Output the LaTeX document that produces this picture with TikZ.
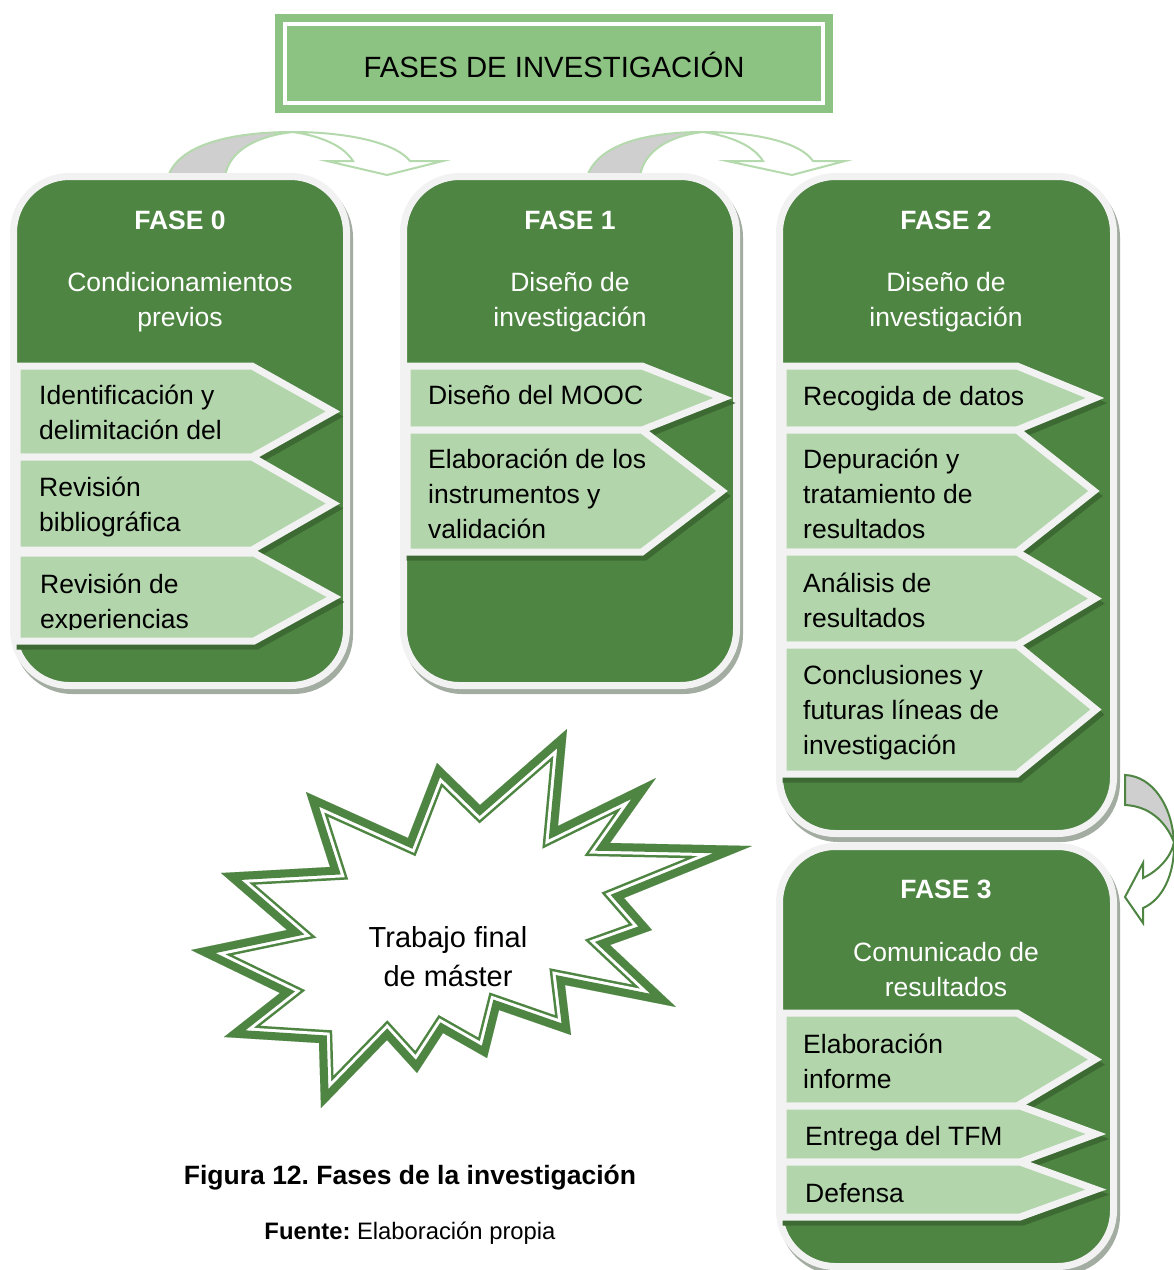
\documentclass[tikz,border=0pt]{standalone}
\usepackage{fontspec}
\setmainfont{Liberation Sans}
\frenchspacing
\begin{document}
\begin{tikzpicture}[x=1pt,y=-1pt]
\definecolor{boxgreen}{HTML}{4E8542}
\definecolor{itemgreen}{HTML}{B2D5AB}
\definecolor{titlegreen}{HTML}{8CC282}
\definecolor{rim}{HTML}{F2F2F2}
\definecolor{boxshadow}{HTML}{A3ACA0}
\definecolor{itemshadow}{HTML}{3D6A33}
\definecolor{arrowline}{HTML}{B4D9AC}
\definecolor{arrowgray}{HTML}{CFCFCF}
\tikzset{
  phase/.style={rectangle, rounded corners=56pt, fill=boxgreen, draw=rim,
    line width=7pt, inner sep=0pt, outer sep=0pt},
  phaseshadow/.style={fill=boxshadow, rounded corners=59.5pt},
  itemtext/.style={anchor=north west, inner sep=0pt, align=left, text=black,
    font=\fontsize{26.5pt}{35pt}\selectfont, execute at begin node=\strut},
  headtitle/.style={anchor=base, inner sep=0pt, text=white,
    font=\fontsize{26.5pt}{35pt}\selectfont\bfseries},
  headsub/.style={anchor=north, inner sep=0pt, align=center, text=white,
    font=\fontsize{26.5pt}{35pt}\selectfont, execute at begin node=\strut},
  toparrow/.style={draw=arrowline, line width=2pt, line join=miter},
  sidearrow/.style={draw=boxgreen, line width=2pt, line join=miter},
}
% pentagon item: left, top, bottom, start of point, tip
\newcommand\itemshape[5]{%
  \filldraw[fill=itemshadow, draw=itemshadow, line width=7pt, line join=miter, shift={(3,5)}]
    (#1,#2) -- (#4,#2) -- (#5,{(#2+#3)/2}) -- (#4,#3) -- (#1,#3) -- cycle;
  \filldraw[fill=itemgreen, draw=rim, line width=7pt, line join=miter]
    (#1,#2) -- (#4,#2) -- (#5,{(#2+#3)/2}) -- (#4,#3) -- (#1,#3) -- cycle;
}
\newcommand\burstpath{(191,950) -- (287,930) -- (221,873) -- (330,867) -- (306,792)
  -- (408,838) -- (437,763) -- (480,805) -- (567,729) -- (558,826) -- (656,778)
  -- (610,843) -- (752,846) -- (624,898) -- (652,930) -- (610,945) -- (676,1007)
  -- (565,985) -- (571,1035) -- (499,1010) -- (487,1058) -- (443,1033) -- (417,1073)
  -- (387,1040) -- (321,1108) -- (319,1043) -- (224,1037) -- (280,993) -- cycle}

\fill[white] (0,0) rectangle (1174,1270);
\useasboundingbox (0,0) rectangle (1174,1270);

% title
\node[fill=titlegreen, inner sep=0pt, outer sep=0pt, text height=63pt, text depth=36pt,
  minimum width=558pt, anchor=base, font=\fontsize{29.3pt}{34pt}\selectfont]
  (title) at (554,77) {FASES DE INVESTIGACIÓN};
\draw[white, line width=3.5pt] ([shift={(10,10)}]title.north west)
  rectangle ([shift={(-10,-10)}]title.south east);

% curved arrows between the upper phases
\filldraw[toparrow, fill=arrowgray] (168,177) .. controls (178,145) and (230,132) .. (293,132)
  .. controls (255,136) and (228,152) .. (225,177) -- cycle;
\filldraw[toparrow, fill=white] (293,132) .. controls (345,132) and (395,142) .. (410,161)
  -- (443,161) -- (387,175) -- (327,161) -- (353,161)
  .. controls (343,145) and (320,136) .. (293,132) -- cycle;
\filldraw[toparrow, fill=arrowgray] (587,177) .. controls (597,145) and (645,132) .. (703,132)
  .. controls (668,136) and (643,152) .. (640,177) -- cycle;
\filldraw[toparrow, fill=white] (703,132) .. controls (755,132) and (800,142) .. (813,161)
  -- (845,161) -- (792,175) -- (727,161) -- (763,161)
  .. controls (753,145) and (730,136) .. (703,132) -- cycle;

% phase boxes
\fill[phaseshadow] (13,178) rectangle (353,694);
\fill[phaseshadow] (403,178) rectangle (743,694);
\fill[phaseshadow] (779,178) rectangle (1120,842);
\fill[phaseshadow] (779,848) rectangle (1120,1275);
\node[phase, minimum width=333pt, minimum height=509pt] (fase0) at (180,431) {};
\node[phase, minimum width=333pt, minimum height=509pt] (fase1) at (570,431) {};
\node[phase, minimum width=334pt, minimum height=657pt] (fase2) at (946.5,505) {};
\node[phase, minimum width=334pt, minimum height=420pt] (fase3) at (946.5,1056.5) {};

% phase headings
\node[headtitle] (h0) at (180,229) {FASE 0};
\node[headsub] (s0) at (180,272.5) {Condicionamientos\\previos};
\node[headtitle] (h1) at (570,229) {FASE 1};
\node[headsub] (s1) at (570,272.5) {Diseño de\\investigación};
\node[headtitle] (h2) at (946,229) {FASE 2};
\node[headsub] (s2) at (946,272.5) {Diseño de\\investigación};
\node[headtitle] (h3) at (946,898) {FASE 3};
\node[headsub] (s3) at (946,942.5) {Comunicado de\\resultados};

% items of phase 0
\itemshape{17}{366}{457}{252}{333}
\itemshape{17}{457}{550}{252}{333}
\itemshape{17}{553}{641}{254}{334}
\node[itemtext] (i01) at (39,385) {Identificación y\\delimitación del};
\node[itemtext] (i02) at (39,477) {Revisión\\bibliográfica};
\begin{scope}
  \clip (17,556) rectangle (300,629);
  \node[itemtext] (i03) at (40,574) {Revisión de\\experiencias};
\end{scope}

% items of phase 1
\itemshape{407}{366}{430}{642}{723}
\itemshape{407}{430}{552}{642}{722}
\node[itemtext] (i11) at (428,379.5) {Diseño del MOOC};
\node[itemtext] (i12) at (428,449) {Elaboración de los\\instrumentos y\\validación};

% items of phase 2
\itemshape{783}{366}{430}{1017}{1095}
\itemshape{783}{430}{552}{1017}{1094}
\itemshape{783}{552}{645}{1017}{1095}
\itemshape{783}{645}{774}{1017}{1096}
\node[itemtext] (i21) at (803,380.5) {Recogida de datos};
\node[itemtext] (i22) at (803,449) {Depuración y\\tratamiento de\\resultados};
\node[itemtext] (i23) at (803,573) {Análisis de\\resultados};
\node[itemtext] (i24) at (803,665) {Conclusiones y\\futuras líneas de\\investigación};

% items of phase 3
\itemshape{783}{1013}{1106}{1017}{1095}
\itemshape{783}{1106}{1162}{1020}{1096}
\itemshape{783}{1162}{1217}{1020}{1096}
\node[itemtext] (i31) at (803,1033.5) {Elaboración\\informe};
\node[itemtext] (i32) at (805,1120.5) {Entrega del TFM};
\node[itemtext] (i33) at (805,1177.5) {Defensa};

% curved arrow from phase 2 down to phase 3
\filldraw[sidearrow, fill=arrowgray] (1125,775) .. controls (1152,776) and (1172,805) .. (1174,842)
  .. controls (1165,820) and (1148,806) .. (1125,805) -- cycle;
\filldraw[sidearrow, fill=white] (1174,842) .. controls (1175,875) and (1162,900) .. (1143,908)
  -- (1143,923) -- (1125,897) -- (1143,863) -- (1143,878)
  .. controls (1160,870) and (1172,855) .. (1174,842) -- cycle;

% starburst with a double green outline
\fill[white] \burstpath;
\begin{scope}
  \clip \burstpath;
  \draw[boxgreen, line width=27pt, line join=miter] \burstpath;
  \draw[white, line width=22pt, line join=miter] \burstpath;
  \draw[boxgreen, line width=16pt, line join=miter] \burstpath;
\end{scope}
\node[anchor=north, inner sep=0pt, align=center, font=\fontsize{29pt}{39pt}\selectfont,
  execute at begin node=\strut] (tfm) at (448,926.7) {Trabajo final\\de máster};

% caption
\node[anchor=base, inner sep=0pt, font=\fontsize{26.5pt}{32pt}\selectfont\bfseries]
  (fig) at (410,1184) {Figura 12. Fases de la investigación};
\node[anchor=base, inner sep=0pt, font=\fontsize{23.8pt}{28pt}\selectfont]
  (src) at (410,1239) {\textbf{Fuente:} Elaboración propia};
\end{tikzpicture}
\end{document}
